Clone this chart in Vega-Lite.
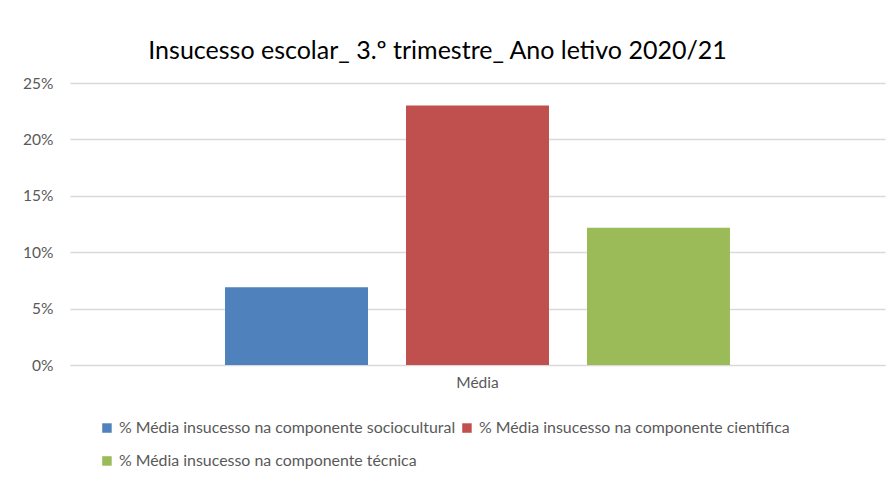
{
  "$schema": "https://vega.github.io/schema/vega-lite/v6.json",
  "autosize": "none",
  "width": 815,
  "height": 282,
  "padding": {"left": 70, "top": 83, "right": 3, "bottom": 114},
  "background": "white",
  "title": {
    "text": "Insucesso escolar_ 3.º trimestre_ Ano letivo 2020/21",
    "font": "Lato",
    "fontSize": 25,
    "fontWeight": "normal",
    "color": "#000000",
    "anchor": "middle",
    "dx": -40,
    "offset": 12
  },
  "data": {
    "values": [
      {"categoria": "Média", "serie": "% Média insucesso na componente sociocultural", "valor": 0.069},
      {"categoria": "Média", "serie": "% Média insucesso na componente científica", "valor": 0.23},
      {"categoria": "Média", "serie": "% Média insucesso na componente técnica", "valor": 0.1216}
    ]
  },
  "mark": {"type": "bar"},
  "encoding": {
    "x": {
      "field": "categoria",
      "type": "nominal",
      "scale": {"paddingInner": 0, "paddingOuter": 0.307},
      "axis": {"title": null, "labelAngle": 0, "ticks": false, "domain": true, "domainColor": "#d9d9d9", "labelPadding": 10, "labelFontSize": 15.5, "labelColor": "#595959", "labelFont": "Lato", "labelDx": -6}
    },
    "xOffset": {
      "field": "serie",
      "type": "nominal",
      "sort": null,
      "scale": {"paddingInner": 0.21, "paddingOuter": 0}
    },
    "y": {
      "field": "valor",
      "type": "quantitative",
      "scale": {"domain": [0, 0.25], "nice": false},
      "axis": {"title": null, "format": ".0%", "values": [0, 0.05, 0.1, 0.15, 0.2, 0.25], "domain": false, "ticks": false, "grid": true, "gridColor": "#d9d9d9", "gridWidth": 1.3, "labelPadding": 17, "labelFontSize": 15.5, "labelColor": "#595959", "labelFont": "Lato"}
    },
    "color": {
      "field": "serie",
      "type": "nominal",
      "sort": null,
      "scale": {"range": ["#4F81BD", "#C0504D", "#9BBB59"]},
      "legend": {
        "title": null,
        "orient": "none",
        "legendX": 29,
        "legendY": 337,
        "columns": 2,
        "direction": "horizontal",
        "symbolType": "square",
        "symbolSize": 90,
        "symbolStrokeWidth": 0,
        "labelFontSize": 15.9,
        "labelColor": "#595959",
        "labelFont": "Lato",
        "labelLimit": 500,
        "columnPadding": 3,
        "rowPadding": 16,
        "labelOffset": 4
      }
    }
  },
  "config": {"view": {"stroke": null}}
}
